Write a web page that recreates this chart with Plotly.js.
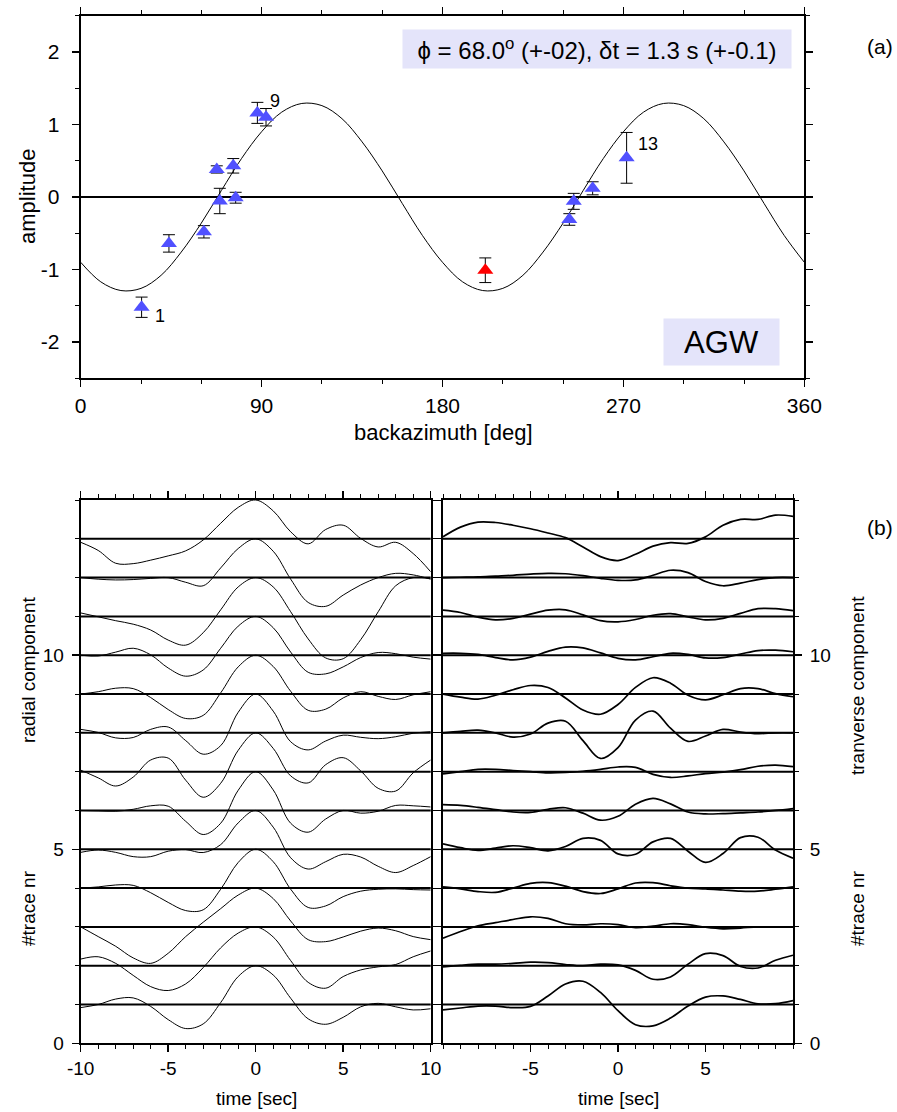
<!DOCTYPE html>
<html>
<head>
<meta charset="utf-8">
<script src="https://cdn.plot.ly/plotly-3.0.1.min.js"></script>
<style>html,body{margin:0;padding:0;background:#fff;}#chart{width:897px;height:1112px;}</style>
</head>
<body>
<div id="chart"></div>
<script>
// ---------- Panel (a) data ----------
const curveBaz = [0,10,20,30,40,50,60,70,80,90,100,110,120,130,140,150,160,170,180,190,200,210,220,230,240,250,260,270,280,290,300,310,320,330,340,350,360];
const curveAmp = [-0.90,-1.17,-1.29,-1.26,-1.08,-0.76,-0.36,0.09,0.53,0.90,1.17,1.29,1.26,1.08,0.76,0.36,-0.09,-0.53,-0.90,-1.17,-1.29,-1.26,-1.08,-0.76,-0.36,0.09,0.53,0.90,1.17,1.29,1.26,1.08,0.76,0.36,-0.09,-0.53,-0.90];

const obsBaz = [30.3, 43.9, 61.3, 67.7, 69.2, 75.9, 77.1, 87.9, 92.2, 243.1, 245.3, 254.7, 271.6];
const obsAmp = [-1.52, -0.64, -0.48, 0.38, -0.055, 0.43, -0.01, 1.16, 1.10, -0.31, -0.06, 0.12, 0.54];
const obsErr = [0.14, 0.12, 0.085, 0.05, 0.175, 0.10, 0.075, 0.145, 0.12, 0.08, 0.11, 0.09, 0.35];

const rejBaz = [201.3];
const rejAmp = [-1.01];
const rejErr = [0.17];

const labelIdx = [0, 8, 12];
const labelText = ['1', '9', '13'];

const resultText = '\u03d5 = 68.0<sup>o</sup> (+-02), \u03b4t = 1.3 s (+-0.1)';
const stationName = 'AGW';

// ---------- Panel (b) data ----------
const time = [-10,-9,-8,-7,-6,-5,-4,-3,-2,-1,0,1,2,3,4,5,6,7,8,9,10];
const traceNr = [1,2,3,4,5,6,7,8,9,10,11,12,13];

const radial = [
  [-0.08, 0.0, 0.14, 0.17, -0.05, -0.39, -0.62, -0.5, 0.05, 0.72, 1.0, 0.76, 0.16, -0.37, -0.51, -0.33, -0.06, 0.03, -0.06, -0.14, -0.11],
  [0.17, 0.23, 0.06, -0.25, -0.54, -0.64, -0.47, -0.05, 0.46, 0.84, 1.0, 0.74, 0.13, -0.43, -0.58, -0.28, -0.11, -0.03, 0.03, 0.23, 0.38],
  [0.0, -0.25, -0.5, -0.8, -0.94, -0.68, -0.25, 0.12, 0.47, 0.82, 1.0, 0.73, 0.15, -0.33, -0.38, -0.26, -0.11, -0.03, -0.1, -0.25, -0.33],
  [0.0, 0.03, 0.08, 0.07, -0.12, -0.37, -0.58, -0.56, -0.03, 0.66, 1.0, 0.68, -0.03, -0.5, -0.46, -0.22, -0.08, -0.03, -0.02, -0.04, -0.05],
  [-0.08, -0.02, -0.08, -0.19, -0.19, -0.05, -0.01, -0.085, 0.12, 0.68, 1.0, 0.57, -0.22, -0.51, -0.32, -0.13, -0.2, -0.44, -0.6, -0.42, -0.19],
  [0.0, -0.01, -0.02, 0.03, 0.12, 0.11, -0.28, -0.62, -0.33, 0.52, 1.0, 0.53, -0.33, -0.56, -0.22, 0.0, -0.07, -0.02, 0.13, 0.12, 0.09],
  [0.04, -0.16, -0.37, -0.14, 0.3, 0.35, -0.22, -0.66, -0.3, 0.55, 1.0, 0.6, -0.11, -0.29, 0.18, 0.36, 0.02, -0.43, -0.5, -0.03, 0.3],
  [0.09, 0.01, -0.13, -0.12, 0.09, 0.15, -0.2, -0.55, -0.33, 0.53, 1.0, 0.56, -0.23, -0.44, -0.21, -0.06, -0.115, -0.15, -0.1, -0.01, 0.03],
  [0.0, 0.06, 0.15, 0.14, -0.09, -0.4, -0.63, -0.55, 0.03, 0.7, 1.0, 0.71, 0.07, -0.42, -0.39, -0.1, 0.06, -0.06, -0.14, -0.02, 0.06],
  [0.0, -0.02, 0.08, 0.18, 0.01, -0.33, -0.54, -0.38, 0.18, 0.75, 1.0, 0.71, 0.08, -0.44, -0.48, -0.3, -0.06, 0.07, 0.04, -0.05, -0.1],
  [0.09, -0.01, -0.11, -0.2, -0.35, -0.61, -0.74, -0.42, 0.17, 0.76, 1.0, 0.76, 0.12, -0.58, -1.07, -1.09, -0.6, 0.12, 0.79, 1.0, 0.97],
  [0.0, -0.04, -0.06, -0.05, -0.02, 0.0, -0.12, -0.21, 0.25, 0.75, 1.0, 0.68, -0.04, -0.64, -0.74, -0.45, -0.19, 0.0, 0.11, 0.07, -0.04],
  [-0.09, -0.30, -0.63, -0.64, -0.55, -0.44, -0.31, -0.03, 0.40, 0.81, 1.0, 0.72, 0.18, -0.13, 0.24, 0.35, 0.01, -0.21, -0.09, -0.38, -0.85]
];

const transverse = [
  [-0.14, -0.09, -0.04, -0.04, -0.08, -0.05, 0.22, 0.53, 0.6, 0.31, -0.16, -0.52, -0.55, -0.35, -0.04, 0.19, 0.22, 0.13, 0.02, 0.02, 0.1],
  [-0.03, 0.01, 0.04, 0.04, 0.06, 0.09, 0.08, 0.03, 0.0, 0.04, 0.02, -0.12, -0.35, -0.29, 0.04, 0.31, 0.26, -0.02, -0.06, 0.14, 0.27],
  [-0.29, -0.12, 0.03, 0.11, 0.19, 0.26, 0.22, 0.08, 0.05, 0.08, 0.06, -0.02, 0.02, 0.08, 0.06, -0.01, -0.05, -0.03, 0.0, 0.0, 0.0],
  [0.03, -0.02, -0.09, -0.11, 0.0, 0.12, 0.14, 0.05, -0.09, -0.14, -0.02, 0.13, 0.14, 0.06, 0.0, -0.02, -0.05, -0.08, -0.08, -0.03, 0.03],
  [0.14, 0.04, -0.03, 0.03, 0.09, 0.04, -0.04, 0.07, 0.28, 0.23, -0.12, -0.13, 0.19, 0.28, -0.05, -0.34, -0.11, 0.3, 0.31, -0.02, -0.23],
  [0.15, 0.13, 0.08, 0.02, -0.04, -0.05, 0.03, 0.07, -0.07, -0.25, -0.15, 0.16, 0.31, 0.17, -0.04, -0.09, -0.08, -0.06, -0.04, 0.0, 0.05],
  [-0.06, 0.0, 0.06, 0.06, 0.03, 0.0, -0.03, -0.02, 0.01, 0.06, 0.12, 0.11, -0.07, -0.15, -0.11, -0.05, -0.01, 0.05, 0.14, 0.17, 0.13],
  [0.0, 0.04, 0.07, 0.0, -0.11, -0.03, 0.25, 0.3, -0.2, -0.66, -0.38, 0.33, 0.56, 0.12, -0.22, -0.08, 0.09, 0.02, -0.02, 0.0, 0.0],
  [0.0, -0.08, -0.13, -0.03, 0.11, 0.22, 0.17, -0.1, -0.41, -0.52, -0.27, 0.17, 0.42, 0.28, -0.03, -0.15, -0.02, 0.14, 0.14, 0.01, -0.07],
  [0.05, 0.05, 0.02, -0.06, -0.12, -0.05, 0.1, 0.21, 0.19, 0.06, -0.08, -0.12, -0.04, 0.05, 0.02, -0.07, -0.06, 0.03, 0.12, 0.13, 0.09],
  [0.16, 0.1, -0.02, -0.09, -0.05, 0.06, 0.16, 0.17, 0.04, -0.11, -0.14, -0.08, 0.03, 0.07, -0.01, -0.09, -0.05, 0.08, 0.2, 0.2, 0.15],
  [0.0, 0.01, 0.02, 0.04, 0.06, 0.09, 0.11, 0.1, 0.05, -0.02, -0.07, -0.06, 0.06, 0.19, 0.13, -0.1, -0.21, -0.14, -0.05, 0.0, 0.0],
  [0.05, 0.3, 0.43, 0.42, 0.35, 0.26, 0.15, 0.03, -0.21, -0.46, -0.56, -0.40, -0.19, -0.1, -0.12, 0.05, 0.35, 0.5, 0.5, 0.61, 0.58]
];

const topXTicks = [0, 90, 180, 270, 360];
const topYTicks = [-2, -1, 0, 1, 2];
const topYTickText = ['-2', '-1', '0', '1', '2'];
const timeTicksL = [-10, -5, 0, 5, 10];
const timeTickTextL = ['-10', '-5', '0', '5', '10'];
const timeTicksR = [-5, 0, 5];
const timeTickTextR = ['-5', '0', '5'];
const nrTicks = [0, 5, 10];

// ---------- build ----------
const W = 897, H = 1112;
const px = v => v / W;
const py = v => 1 - v / H;
const FONT = 'Liberation Sans, Arial, Helvetica, sans-serif';
const BLUE = 'rgb(80,80,255)';
const LAV = 'rgb(228,228,250)';

const data = [];
data.push({x: curveBaz, y: curveAmp, xaxis: 'x', yaxis: 'y', mode: 'lines',
  line: {color: 'black', width: 1, shape: 'spline', smoothing: 1}, hoverinfo: 'skip'});
data.push({x: obsBaz, y: obsAmp, xaxis: 'x', yaxis: 'y', mode: 'markers',
  marker: {symbol: 'triangle-up', size: 14, color: BLUE},
  error_y: {type: 'data', array: obsErr, visible: true, color: 'black', thickness: 1, width: 6}});
data.push({x: rejBaz, y: rejAmp, xaxis: 'x', yaxis: 'y', mode: 'markers',
  marker: {symbol: 'triangle-up', size: 14, color: 'rgb(255,0,0)'},
  error_y: {type: 'data', array: rejErr, visible: true, color: 'black', thickness: 1, width: 6}});

traceNr.forEach((n, i) => {
  data.push({x: time, y: radial[i].map(v => v + n), xaxis: 'x2', yaxis: 'y2', mode: 'lines',
    line: {color: 'black', width: 1, shape: 'spline', smoothing: 1}});
  data.push({x: time, y: transverse[i].map(v => v + n), xaxis: 'x3', yaxis: 'y3', mode: 'lines',
    line: {color: 'black', width: 1.7, shape: 'spline', smoothing: 1}});
});

const shapes = [];
traceNr.forEach(n => {
  shapes.push({type: 'line', xref: 'x2 domain', yref: 'y2', x0: 0, x1: 1, y0: n, y1: n, line: {color: 'black', width: 2}, layer: 'below'});
  shapes.push({type: 'line', xref: 'x3 domain', yref: 'y3', x0: 0, x1: 1, y0: n, y1: n, line: {color: 'black', width: 2}, layer: 'below'});
});

const topTickFont = {family: FONT, size: 21, color: 'black'};
const botTickFont = {family: FONT, size: 19, color: 'black'};
function axisBase(extra) {
  return Object.assign({
    showline: true, linecolor: 'black', linewidth: 2, mirror: 'ticks',
    ticks: 'outside', ticklen: 7, tickwidth: 1.5, tickcolor: 'black',
    showgrid: false, zeroline: false, fixedrange: true
  }, extra);
}
const minorCfg = d => ({tickmode: 'linear', tick0: 0, dtick: d, ticks: 'outside', ticklen: 4, tickwidth: 1, tickcolor: 'black'});

const annotations = [];
const shifts = [[18, -9], [9, 16], [21, 14]];
labelIdx.forEach((idx, k) => {
  annotations.push({x: obsBaz[idx], y: obsAmp[idx], xref: 'x', yref: 'y', text: labelText[k],
    showarrow: false, xshift: shifts[k][0], yshift: shifts[k][1], xanchor: 'center', yanchor: 'middle',
    font: {family: FONT, size: 18, color: 'black'}});
});
function paperText(x, y, text, size, extra) {
  annotations.push(Object.assign({xref: 'paper', yref: 'paper', x: px(x), y: py(y), xanchor: 'center', yanchor: 'middle',
    text: text, showarrow: false, font: {family: FONT, size: size, color: 'black'}}, extra || {}));
}
paperText(596.5, 48.8, resultText, 24, {bgcolor: LAV, width: 388, height: 38, borderpad: 0});
paperText(721.5, 342, stationName, 31, {bgcolor: LAV, width: 115, height: 46, borderpad: 0});
paperText(880, 47, '(a)', 21);
paperText(880, 527, '(b)', 21);
paperText(27, 197, 'amplitude', 22, {textangle: -90});
paperText(443, 432, 'backazimuth [deg]', 22);
paperText(256, 1098, 'time [sec]', 19);
paperText(618, 1098, 'time [sec]', 19);
paperText(28, 908, '#trace nr', 19, {textangle: -90});
paperText(28, 670, 'radial component', 19, {textangle: -90});
paperText(857, 908, '#trace nr', 19, {textangle: -90});
paperText(857, 686, 'tranverse component', 19, {textangle: -90});

const layout = {
  width: W, height: H, margin: {l: 0, r: 0, t: 0, b: 0},
  paper_bgcolor: 'white', plot_bgcolor: 'white', showlegend: false,
  font: {family: FONT, size: 18, color: 'black'},
  xaxis: axisBase({domain: [px(80.7), px(804.3)], range: [0, 360], anchor: 'y', tickfont: topTickFont,
    tickmode: 'array', tickvals: topXTicks, ticktext: topXTicks.map(String), minor: minorCfg(30)}),
  yaxis: axisBase({domain: [py(378.3), py(15.7)], range: [-2.5, 2.5], anchor: 'x', tickfont: topTickFont,
    tickmode: 'array', tickvals: topYTicks, ticktext: topYTickText,
    zeroline: true, zerolinecolor: 'black', zerolinewidth: 2, ticklabelstandoff: 8, minor: minorCfg(0.5)}),
  xaxis2: axisBase({domain: [px(80.7), px(430.7)], range: [-10, 10], anchor: 'y2', tickfont: botTickFont,
    tickmode: 'array', tickvals: timeTicksL, ticktext: timeTickTextL, minor: minorCfg(1)}),
  yaxis2: axisBase({domain: [py(1043.3), py(500)], range: [0, 14], anchor: 'x2', tickfont: botTickFont,
    tickmode: 'array', tickvals: nrTicks, ticktext: nrTicks.map(String), ticklabelstandoff: 4, minor: minorCfg(1)}),
  xaxis3: axisBase({domain: [px(443), px(793)], range: [-10, 10], anchor: 'y3', tickfont: botTickFont,
    tickmode: 'array', tickvals: timeTicksR, ticktext: timeTickTextR, minor: minorCfg(1)}),
  yaxis3: axisBase({domain: [py(1043.3), py(500)], range: [0, 14], anchor: 'x3', side: 'right', tickfont: botTickFont,
    tickmode: 'array', tickvals: nrTicks, ticktext: nrTicks.map(String), ticklabelstandoff: 4, minor: minorCfg(1)}),
  shapes: shapes,
  annotations: annotations
};

Plotly.newPlot('chart', data, layout, {staticPlot: true, displayModeBar: false});
</script>
</body>
</html>
